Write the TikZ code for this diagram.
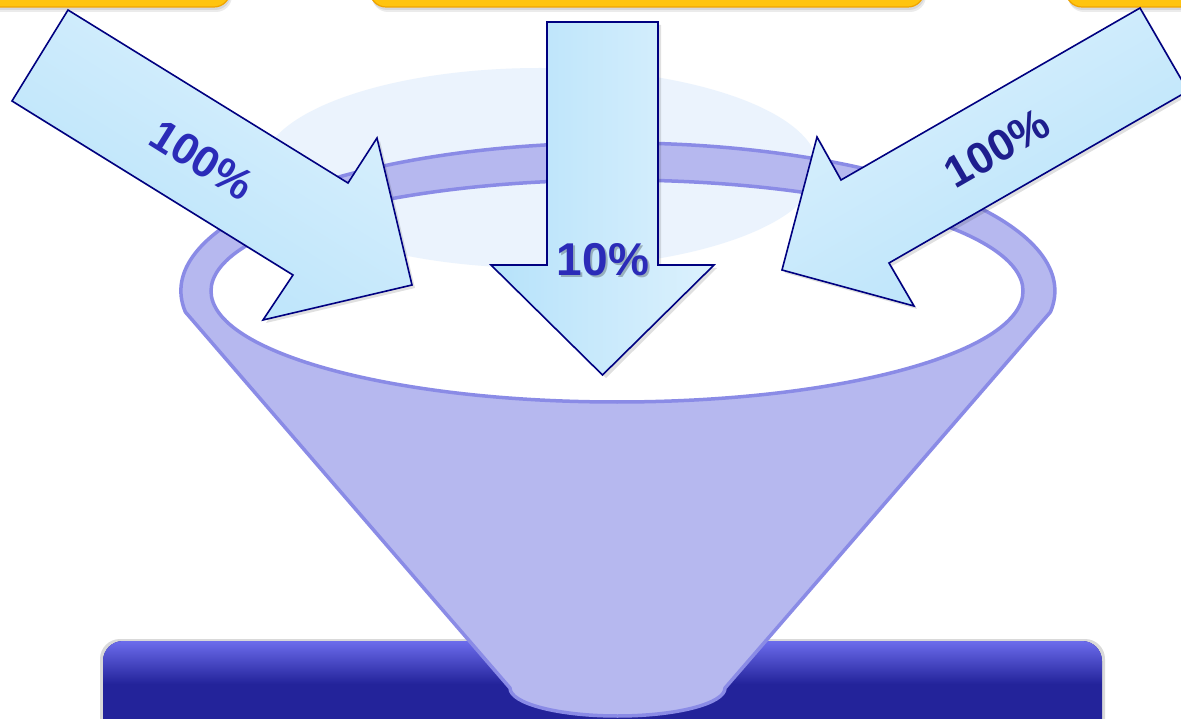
\documentclass[tikz,border=0pt]{standalone}
\usepackage{fontspec}
\setmainfont{Liberation Sans}
\definecolor{paleell}{HTML}{EBF3FD}
\definecolor{funfill}{HTML}{B6B8EF}
\definecolor{funline}{HTML}{8A8BE6}
\definecolor{arrline}{HTML}{000080}
\definecolor{arrlight}{HTML}{DCF1FD}
\definecolor{arrdark}{HTML}{B6E2FA}
\definecolor{gold}{HTML}{FFC40F}
\definecolor{goldedge}{HTML}{F0A400}
\definecolor{boxtop}{HTML}{6C6CEC}
\definecolor{boxdark}{HTML}{23239A}
\definecolor{txtblue}{HTML}{2B2BB8}
\definecolor{txtnavy}{HTML}{1E1E8E}
\tikzset{
  arrowshape/.style={draw=arrline, line width=1.6pt, line join=miter},
  arrowshadow/.style={fill=black, opacity=0.12, draw=none},
  pct/.style={font=\bfseries\fontsize{44}{44}\selectfont, inner sep=0pt},
  goldbox/.style={fill=gold, draw=goldedge, line width=1.2pt, rounded corners=16pt},
  goldshadow/.style={fill=black, opacity=0.08, draw=none, rounded corners=16pt},
}
\begin{document}
\begin{tikzpicture}[x=1pt,y=-1pt]
\useasboundingbox (0,0) rectangle (1181,719);
\clip (0,0) rectangle (1181,719);
\fill[white] (0,0) rectangle (1181,719);

% yellow boxes (only their bottoms are visible)
\foreach \a/\b in {-60/230, 370/924, 1066/1260}{
  \fill[goldshadow] (\a+2,-60) rectangle (\b+2,12);
  \fill[goldshadow] (\a+1,-60) rectangle (\b+1,10);
  \path[goldbox] (\a,-60) rectangle (\b,7);
}

% pale ellipse behind the funnel opening
\fill[paleell] (540,168) ellipse[x radius=278, y radius=100];

% dark blue box at the bottom
\fill[black, opacity=0.15, rounded corners=20pt] (100,639) rectangle (1105,780);
\fill[boxdark, rounded corners=20pt] (103,641) rectangle (1102,780);
\begin{scope}
  \clip[rounded corners=20pt] (103,641) rectangle (1102,780);
  \shade[top color=boxtop, bottom color=boxdark] (103,641) rectangle (1102,684);
\end{scope}

% funnel: cone + rim with the opening as a hole
\path[fill=funfill, even odd rule]
  (510,688) -- (185.4,312)
  arc[start angle=171.8, end angle=368.2, x radius=437, y radius=148]
  -- (725,688)
  arc[start angle=0, end angle=180, x radius=107.5, y radius=28] -- cycle
  (617,291) ellipse[x radius=406, y radius=111];
\draw[funline, line width=3.5pt, line join=round]
  (510,688) -- (185.4,312)
  arc[start angle=171.8, end angle=368.2, x radius=437, y radius=148]
  -- (725,688)
  arc[start angle=0, end angle=180, x radius=107.5, y radius=28] -- cycle;
\draw[funline, line width=3.5pt] (617,291) ellipse[x radius=406, y radius=111];

% left arrow
\fill[arrowshadow] (71,13) -- (351,186) -- (380,141) -- (415,288) -- (266,323) -- (296,278) -- (15,104) -- cycle;
\path[arrowshape, top color=arrlight, bottom color=arrdark, shading angle=-32]
  (68,10) -- (348,183) -- (377,138) -- (412,285) -- (263,320) -- (293,275) -- (12,101) -- cycle;

% middle arrow
\fill[arrowshadow] (550,25) -- (661,25) -- (661,268) -- (717,268) -- (606,378) -- (494,268) -- (550,268) -- cycle;
\path[arrowshape, left color=arrdark, right color=arrlight]
  (547,22) -- (658,22) -- (658,265) -- (714,265) -- (602.5,375) -- (491,265) -- (547,265) -- cycle;

% right arrow
\fill[arrowshadow] (1143,11) -- (1191,94) -- (892,266) -- (917,309) -- (785,273) -- (820,140) -- (844,183) -- cycle;
\path[arrowshape, top color=arrlight, bottom color=arrdark, shading angle=30]
  (1140,8) -- (1188,91) -- (889,263) -- (914,306) -- (782,270) -- (817,137) -- (841,180) -- cycle;

% labels
\node[pct, text=txtblue, rotate=-32] (lefttxt) at (202,160) {100\%};
\node[pct, text=black, opacity=0.25, font=\bfseries\fontsize{46}{46}\selectfont] (midshadow) at (605,262) {10\%};
\node[pct, text=txtblue, font=\bfseries\fontsize{46}{46}\selectfont] (midtxt) at (603,260) {10\%};
\node[pct, text=txtnavy, rotate=30] (righttxt) at (997,148) {100\%};
\end{tikzpicture}
\end{document}
